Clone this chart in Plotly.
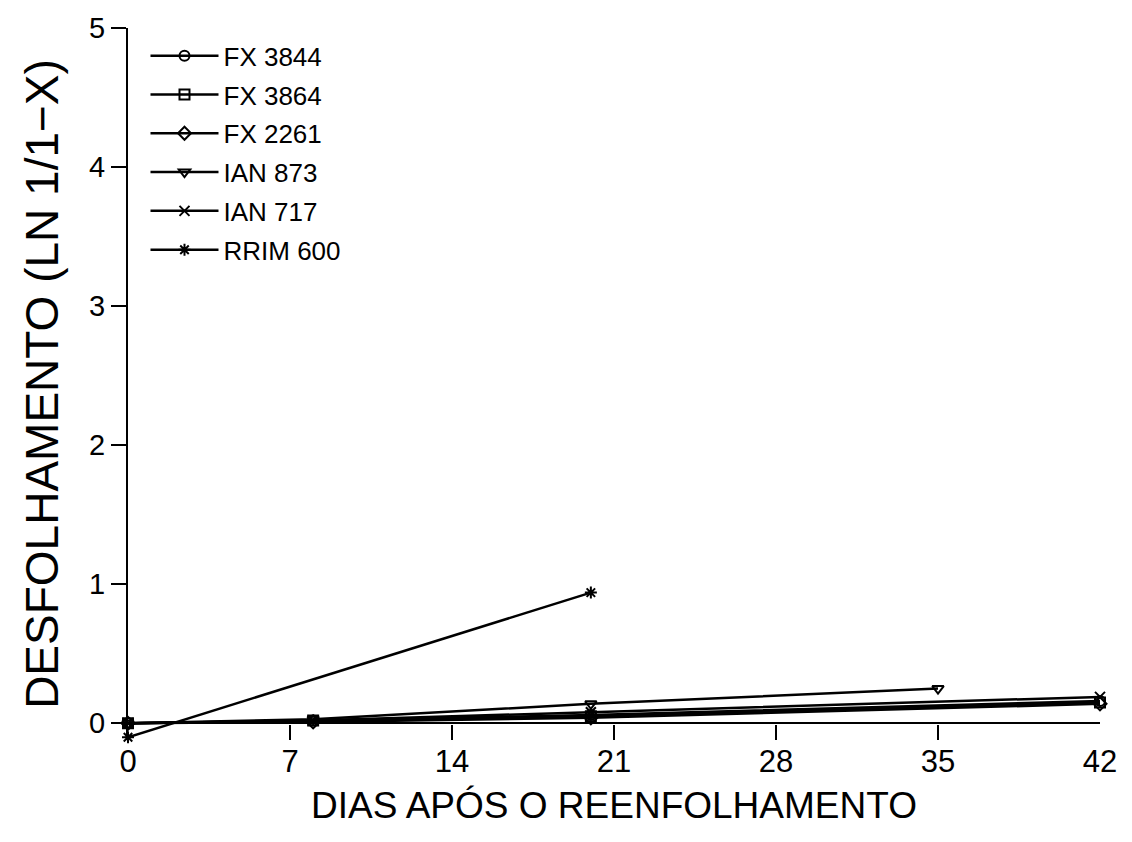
import plotly.graph_objects as go

# ---- data ----
days_fx3844 = [0, 8, 20, 42]
fx3844 = [0.0, 0.02, 0.06, 0.16]
days_fx3864 = [0, 8, 20, 42]
fx3864 = [0.0, 0.02, 0.05, 0.15]
days_fx2261 = [0, 8, 20, 42]
fx2261 = [0.0, 0.01, 0.04, 0.14]
days_ian873 = [0, 8, 20, 35]
ian873 = [0.0, 0.03, 0.14, 0.25]
days_ian717 = [0, 8, 20, 42]
ian717 = [0.0, 0.02, 0.08, 0.19]
days_rrim600 = [0, 20]
rrim600 = [-0.1, 0.94]

x_ticks = [0, 7, 14, 21, 28, 35, 42]
y_ticks = [0, 1, 2, 3, 4, 5]

series = [
    ("FX 3844", days_fx3844, fx3844, "circle-open"),
    ("FX 3864", days_fx3864, fx3864, "square-open"),
    ("FX 2261", days_fx2261, fx2261, "diamond-open"),
    ("IAN 873", days_ian873, ian873, "triangle-down-open"),
    ("IAN 717", days_ian717, ian717, "x-thin-open"),
    ("RRIM 600", days_rrim600, rrim600, "asterisk-open"),
]

FONT = "Liberation Sans, Arial, sans-serif"

fig = go.Figure()
for name, xs, ys, sym in series:
    fig.add_trace(go.Scatter(
        x=xs, y=ys, name=name, mode="lines+markers", legendgroup=name,
        line=dict(color="black", width=2.5),
        marker=dict(symbol=sym, size=10, color="black",
                    line=dict(color="black", width=2)),
        cliponaxis=False,
    ))

fig.update_layout(
    width=1132, height=842,
    margin=dict(l=128, r=32, t=25, b=102),
    paper_bgcolor="white", plot_bgcolor="white",
    font=dict(family=FONT, color="black"),
    showlegend=True,
    legend=dict(
        x=0.018, y=0.994, xanchor="left", yanchor="top",
        font=dict(size=26, family=FONT, color="black"),
        bgcolor="rgba(0,0,0,0)", itemwidth=68,
        tracegroupgap=2,
    ),
    xaxis=dict(
        range=[0, 42], tickvals=x_ticks, ticktext=[str(v) for v in x_ticks],
        showline=False, zeroline=False, showgrid=False,
        ticks="inside", ticklen=15, tickwidth=2, tickcolor="black",
        tickfont=dict(size=31, family=FONT),
        title=dict(text="DIAS APÓS O REENFOLHAMENTO",
                   font=dict(size=37, family=FONT), standoff=14),
    ),
    yaxis=dict(
        range=[-0.12, 5], tickvals=y_ticks, ticktext=[str(v) for v in y_ticks],
        showline=True, linecolor="black", linewidth=2,
        zeroline=True, zerolinecolor="black", zerolinewidth=2,
        showgrid=False,
        ticks="outside", ticklen=15, tickwidth=2, tickcolor="black",
        tickfont=dict(size=29, family=FONT),
        title=dict(text="DESFOLHAMENTO (LN 1/1−X)",
                   font=dict(size=46, family=FONT), standoff=16),
    ),
)

fig.write_html("out.html")
